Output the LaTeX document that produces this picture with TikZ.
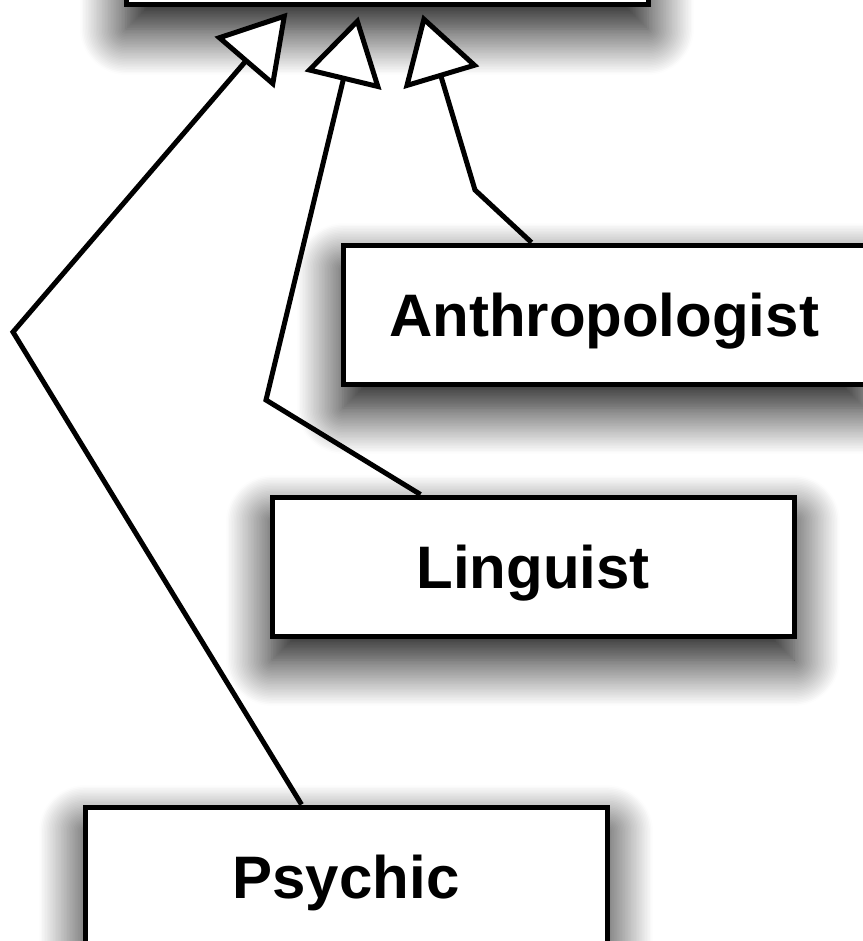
\documentclass[tikz,border=0pt]{standalone}
\usepackage{fontspec}
\setmainfont{Liberation Sans}
\usetikzlibrary{arrows.meta,shadows.blur}
\begin{document}
\begin{tikzpicture}[x=1pt,y=1pt,
  box/.style={draw=black, fill=white, line width=5pt, inner sep=0pt,
    minimum width=522pt, minimum height=139pt,
    font=\fontsize{60pt}{72pt}\selectfont\bfseries, text height=43pt, text depth=0pt,
    blur shadow={shadow xshift=0pt, shadow yshift=-24pt, shadow blur radius=46pt,
      shadow blur steps=30, shadow opacity=100}},
  conn/.style={line width=5pt, -{Triangle[length=66pt,width=78pt,fill=white]}}
]
\useasboundingbox (0,0) rectangle (862,-941);
\node[box, minimum height=120pt] (top) at (387,55) {};
\node[box] (anth) at (604,-314.5) {Anthropologist};
\node[box] (ling) at (533,-566.5) {Linguist};
\node[box] (psy) at (346,-876.5) {Psychic};
\coordinate (b1) at (13,-332);
\coordinate (b2) at (266,-400);
\coordinate (b3) at (475,-190);
\coordinate (t1) at ([xshift=164pt,yshift=-5pt]top.south west);
\coordinate (t2) at ([xshift=235pt,yshift=-9pt]top.south west);
\coordinate (t3) at ([xshift=299pt,yshift=-7pt]top.south west);
\draw[conn] ([xshift=219pt]psy.north west) -- (b1) -- (t1);
\draw[conn] ([xshift=151pt]ling.north west) -- (b2) -- (t2);
\draw[conn] ([xshift=191pt]anth.north west) -- (b3) -- (t3);
\end{tikzpicture}
\end{document}
